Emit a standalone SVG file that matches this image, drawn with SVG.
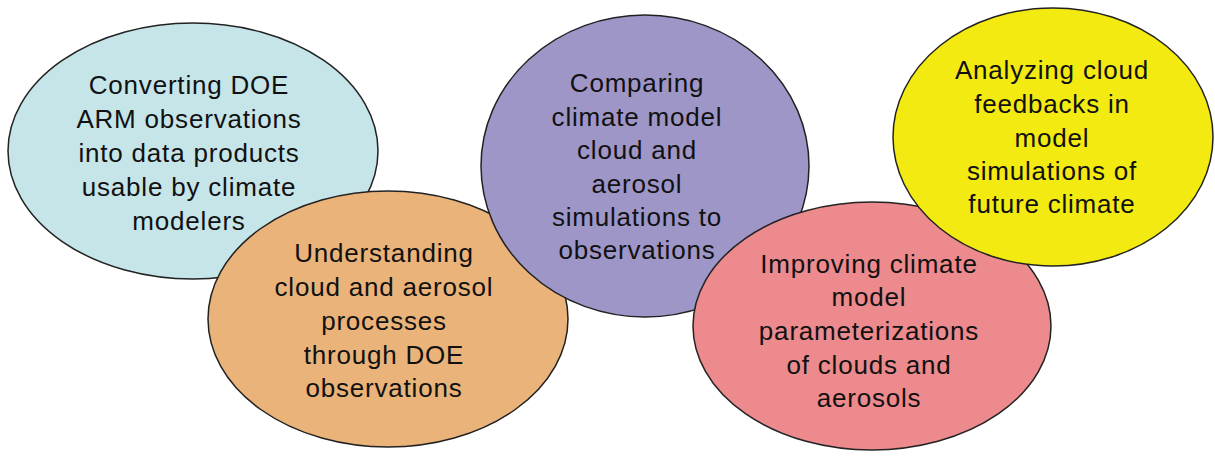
<svg xmlns="http://www.w3.org/2000/svg" width="1215" height="456" viewBox="0 0 1215 456">
<style>
.n{stroke:#222;stroke-width:1.5}
.t{font-family:"Liberation Sans",Arial,sans-serif;font-size:26px;letter-spacing:0.8px;fill:#111;text-anchor:middle}
</style>
<rect width="1215" height="456" fill="#fff"/>
<g id="connectors"/>
<g id="n1">
<ellipse class="n" cx="193" cy="151" rx="185" ry="128" fill="#C6E5E9"/>
<text class="t"><tspan x="189" y="94">Converting DOE</tspan><tspan x="189" y="128">ARM observations</tspan><tspan x="189" y="162">into data products</tspan><tspan x="189" y="196">usable by climate</tspan><tspan x="189" y="230">modelers</tspan></text>
</g>
<g id="n2">
<ellipse class="n" cx="388" cy="319" rx="180" ry="128" fill="#EAB37A"/>
<text class="t"><tspan x="384" y="262">Understanding</tspan><tspan x="384" y="296">cloud and aerosol</tspan><tspan x="384" y="330">processes</tspan><tspan x="384" y="364">through DOE</tspan><tspan x="384" y="397">observations</tspan></text>
</g>
<g id="n3">
<ellipse class="n" cx="645" cy="166" rx="164" ry="151" fill="#9F96C8"/>
<text class="t"><tspan x="637" y="92">Comparing</tspan><tspan x="637" y="126">climate model</tspan><tspan x="637" y="159">cloud and</tspan><tspan x="637" y="193">aerosol</tspan><tspan x="637" y="226">simulations to</tspan><tspan x="637" y="259">observations</tspan></text>
</g>
<g id="n4">
<ellipse class="n" cx="872" cy="326" rx="179" ry="124" fill="#EC8A8E"/>
<text class="t"><tspan x="869" y="273">Improving climate</tspan><tspan x="869" y="306">model</tspan><tspan x="869" y="340">parameterizations</tspan><tspan x="869" y="374">of clouds and</tspan><tspan x="869" y="407">aerosols</tspan></text>
</g>
<g id="n5">
<ellipse class="n" cx="1053" cy="137" rx="160" ry="129" fill="#F3EA12"/>
<text class="t"><tspan x="1052" y="79">Analyzing cloud</tspan><tspan x="1052" y="113">feedbacks in</tspan><tspan x="1052" y="147">model</tspan><tspan x="1052" y="180">simulations of</tspan><tspan x="1052" y="213">future climate</tspan></text>
</g>
</svg>
